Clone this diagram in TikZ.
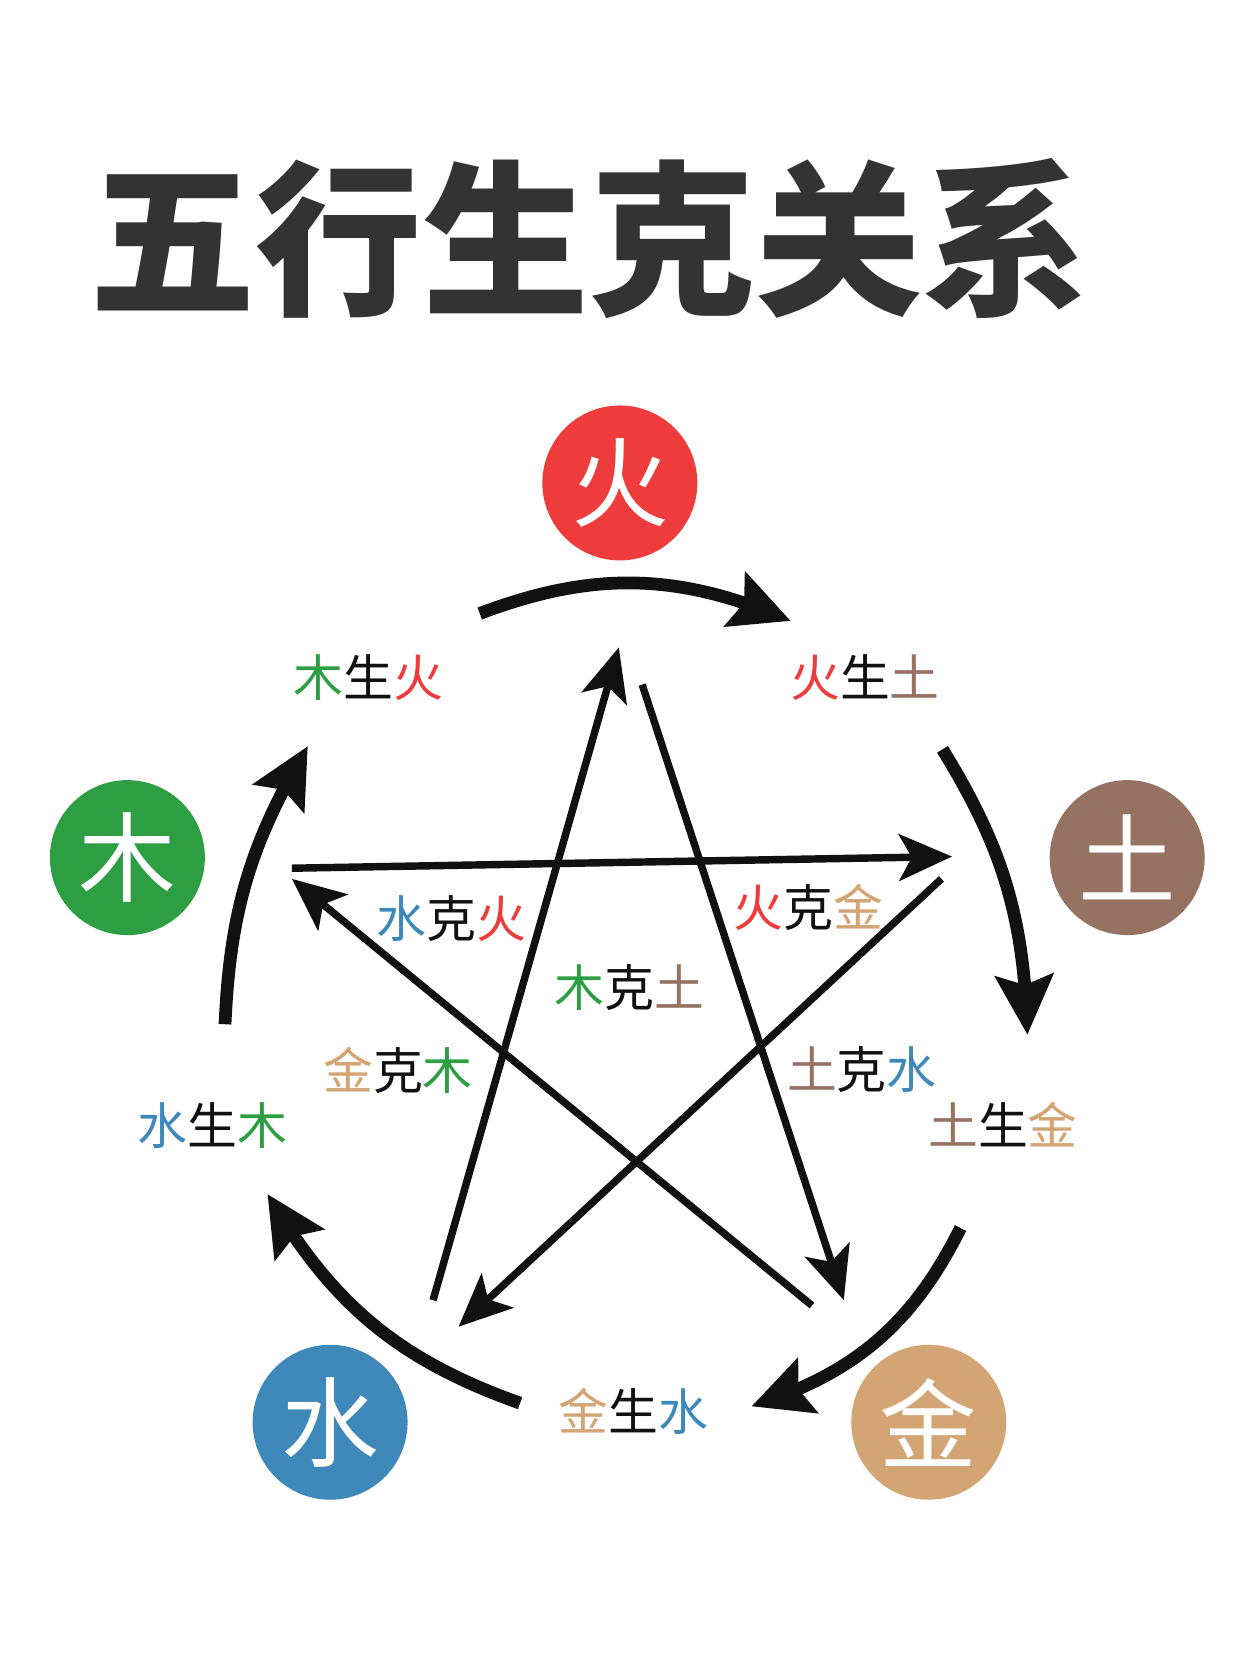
\documentclass[tikz,border=0pt]{standalone}
\usepackage{fontspec}
\newfontfamily\cjk{Noto Sans CJK SC}
\usetikzlibrary{arrows.meta,bending}
\definecolor{fire}{HTML}{EE3B3B}
\definecolor{wood}{HTML}{2E9E42}
\definecolor{earth}{HTML}{957262}
\definecolor{water}{HTML}{3E88BA}
\definecolor{metal}{HTML}{D4A574}
\definecolor{titlegray}{HTML}{333333}
\definecolor{ink}{HTML}{111111}
\begin{document}
\begin{tikzpicture}[x=1pt,y=-1pt,
  elem/.style={circle,minimum size=146pt,inner sep=0pt,text=white,font=\cjk\fontsize{92}{92}\selectfont},
  lbl/.style={inner sep=0pt,text=ink,font=\cjk\fontsize{47}{47}\selectfont},
  sheng/.style={draw=ink,line width=12pt,-{Stealth[length=56pt,width=54pt,inset=9pt]}},
  ke/.style={draw=ink,line width=7pt,-{Stealth[length=50pt,width=44pt,inset=12pt]}}]
\useasboundingbox (0,0) rectangle (1170,1564);
\fill[white] (0,0) rectangle (1170,1564);
% title
\node[inner sep=0pt,text=titlegray,font=\cjk\bfseries\fontsize{157}{157}\selectfont] (title) at (555,225) {五行生克关系};
% elements
\node[elem,fill=fire]  (huo) at (584,455) {火};
\node[elem,fill=wood]  (mu)  at (120,808) {木};
\node[elem,fill=earth] (tu)  at (1062,808) {土};
\node[elem,fill=water] (shui) at (311,1340) {水};
\node[elem,fill=metal] (jin) at (875,1340) {金};
% sheng arcs
\coordinate (s1a) at (452,578);  \coordinate (s1b) at (745,585);
\coordinate (s2a) at (888,706);  \coordinate (s2b) at (968,975);
\coordinate (s3a) at (905,1157); \coordinate (s3b) at (708,1325);
\coordinate (s4a) at (490,1322); \coordinate (s4b) at (252,1125);
\coordinate (s5a) at (212,965);  \coordinate (s5b) at (290,703);
\draw[sheng] (s1a) to[bend left=22] (s1b);
\draw[sheng] (s2a) to[bend left=15] (s2b);
\draw[sheng] (s3a) to[bend left=23] (s3b);
\draw[sheng] (s4a) to[bend left=20] (s4b);
\draw[sheng] (s5a) to[bend left=14] (s5b);
% ke lines
\coordinate (k1a) at (275,818);  \coordinate (k1b) at (897,807);
\coordinate (k2a) at (887,828);  \coordinate (k2b) at (432,1250);
\coordinate (k3a) at (408,1225); \coordinate (k3b) at (583,610);
\coordinate (k4a) at (605,645);  \coordinate (k4b) at (795,1225);
\coordinate (k5a) at (765,1230); \coordinate (k5b) at (275,828);
\draw[ke] (k1a) -- (k1b);
\draw[ke] (k2a) -- (k2b);
\draw[ke] (k3a) -- (k3b);
\draw[ke] (k4a) -- (k4b);
\draw[ke] (k5a) -- (k5b);
% labels
\node[lbl] (l1) at (347,638) {\textcolor{wood}{木}生\textcolor{fire}{火}};
\node[lbl] (l2) at (815,638) {\textcolor{fire}{火}生\textcolor{earth}{土}};
\node[lbl] (l3) at (200,1060) {\textcolor{water}{水}生\textcolor{wood}{木}};
\node[lbl] (l4) at (945,1060) {\textcolor{earth}{土}生\textcolor{metal}{金}};
\node[lbl] (l5) at (597,1330) {\textcolor{metal}{金}生\textcolor{water}{水}};
\node[lbl] (l6) at (425,865) {\textcolor{water}{水}克\textcolor{fire}{火}};
\node[lbl] (l7) at (762,855) {\textcolor{fire}{火}克\textcolor{metal}{金}};
\node[lbl] (l8) at (593,930) {\textcolor{wood}{木}克\textcolor{earth}{土}};
\node[lbl] (l9) at (375,1008) {\textcolor{metal}{金}克\textcolor{wood}{木}};
\node[lbl] (l10) at (812,1008) {\textcolor{earth}{土}克\textcolor{water}{水}};
\end{tikzpicture}
\end{document}
